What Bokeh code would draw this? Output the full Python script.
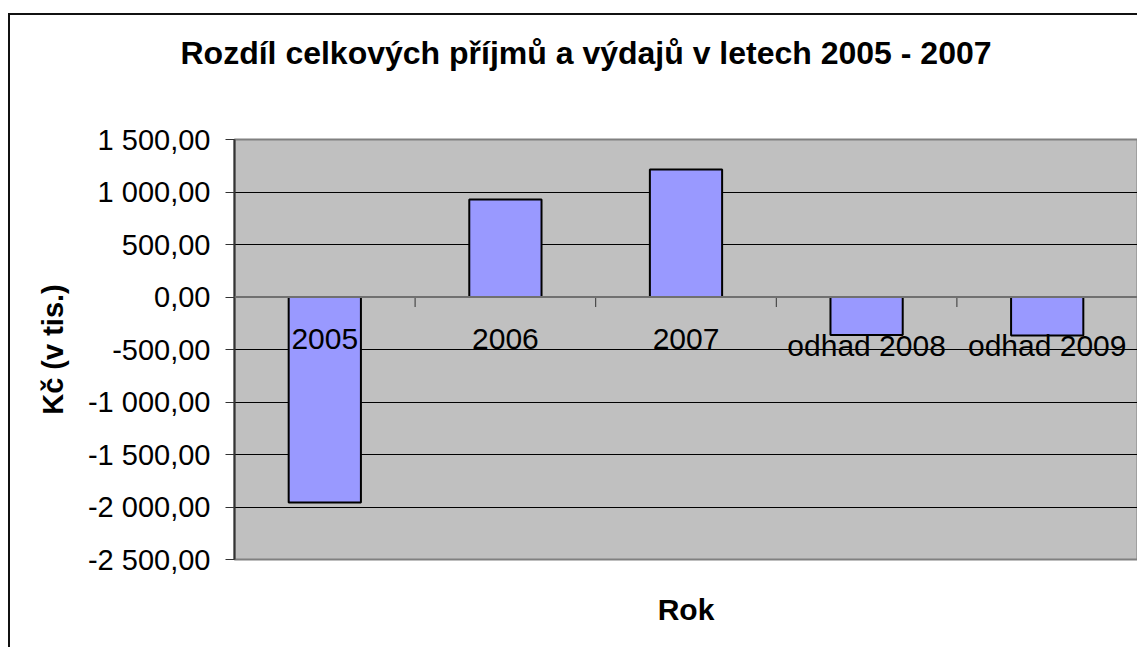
from bokeh.plotting import figure
from bokeh.models import FixedTicker, Span, ColumnDataSource, Title
from bokeh.core.properties import value
from bokeh.embed import file_html
from bokeh.resources import INLINE

# ---- data ----
categories = ["2005", "2006", "2007", "odhad 2008", "odhad 2009"]
values = [-1957, 929, 1214, -362, -367]
y_ticks = [-2500, -2000, -1500, -1000, -500, 0, 500, 1000, 1500]
title_text = "Rozdíl celkových příjmů a výdajů v letech 2005 - 2007"
x_title = "Rok"
y_title = "Kč (v tis.)"

FONT = "Liberation Sans"
y_min, y_max = y_ticks[0], y_ticks[-1]
frame_w, frame_h = 903, 420
data_per_px_y = (y_max - y_min) / frame_h

def fmt(v):
    s = f"{abs(v):,.2f}".replace(",", " ").replace(".", ",")
    return ("-" if v < 0 else "") + s

xs = [i + 0.5 for i in range(len(categories))]
bounds = [i + 1 for i in range(len(categories))]
tick_len = 10 * data_per_px_y

p = figure(width=1129, height=634, output_backend="svg", toolbar_location=None,
           title=None,
           x_range=(0, len(categories)), y_range=(y_min, y_max),
           min_border_left=224, min_border_top=124, min_border_right=2,
           min_border_bottom=90)
p.margin = (13, 0, -20, 8)
p.styles = {"border-left": "2px solid #111", "border-top": "2px solid #111"}

p.background_fill_color = "#C0C0C0"
p.border_fill_color = "white"
p.outline_line_color = "#808080"
p.outline_line_width = 2

# spacer between frame and title, then the title itself
p.add_layout(Title(text=" ", text_font_size="1px", standoff=66), "above")
p.add_layout(Title(text=title_text, align="left", offset=-54, standoff=0,
                   text_font=FONT, text_font_size="32px", text_font_style="bold",
                   text_color="black"), "above")

# grid
p.xgrid.grid_line_color = None
p.ygrid.ticker = FixedTicker(ticks=y_ticks)
p.ygrid.grid_line_color = "black"
p.ygrid.grid_line_width = 1

# y axis
ya = p.yaxis[0]
ya.ticker = FixedTicker(ticks=y_ticks)
ya.major_label_overrides = {t: fmt(t) for t in y_ticks}
ya.major_label_text_font = FONT
ya.major_label_text_font_size = "29px"
ya.major_label_text_color = "black"
ya.major_tick_out = 9
ya.major_tick_in = 0
ya.major_tick_line_color = "#333333"
ya.major_tick_line_width = 1
ya.minor_tick_line_color = None
ya.axis_line_color = "#333333"
ya.axis_line_width = 2
ya.major_label_standoff = 15
ya.axis_label = y_title
ya.axis_label_text_font = FONT
ya.axis_label_text_font_size = "29px"
ya.axis_label_text_font_style = "bold"
ya.axis_label_text_color = "black"
ya.axis_label_standoff = 16

# x axis (only title)
xa = p.xaxis[0]
xa.ticker = FixedTicker(ticks=[])
xa.axis_line_color = None
xa.major_tick_line_color = None
xa.minor_tick_line_color = None
xa.major_label_text_font_size = "0px"
xa.axis_label = x_title
xa.axis_label_text_font = FONT
xa.axis_label_text_font_size = "30px"
xa.axis_label_text_font_style = "bold"
xa.axis_label_text_color = "black"
xa.axis_label_standoff = 33

# bars
src = ColumnDataSource(dict(x=xs, top=values, cat=categories))
p.vbar(x="x", top="top", bottom=0, width=0.4, source=src,
       fill_color="#9999FF", line_color="black", line_width=2)

# zero axis
p.add_layout(Span(location=0, dimension="width", line_color="#707070", line_width=2))
p.segment(x0=bounds, x1=bounds, y0=[0] * len(bounds), y1=[-tick_len] * len(bounds),
          line_color="#333333", line_width=1)

# category labels at zero line
p.text(x="x", y=0, text="cat", source=src, text_align="center", text_baseline="top",
       y_offset=32, text_font=value(FONT), text_font_size="30px", text_color="black")

open("out.html", "w").write(file_html(p, INLINE))
